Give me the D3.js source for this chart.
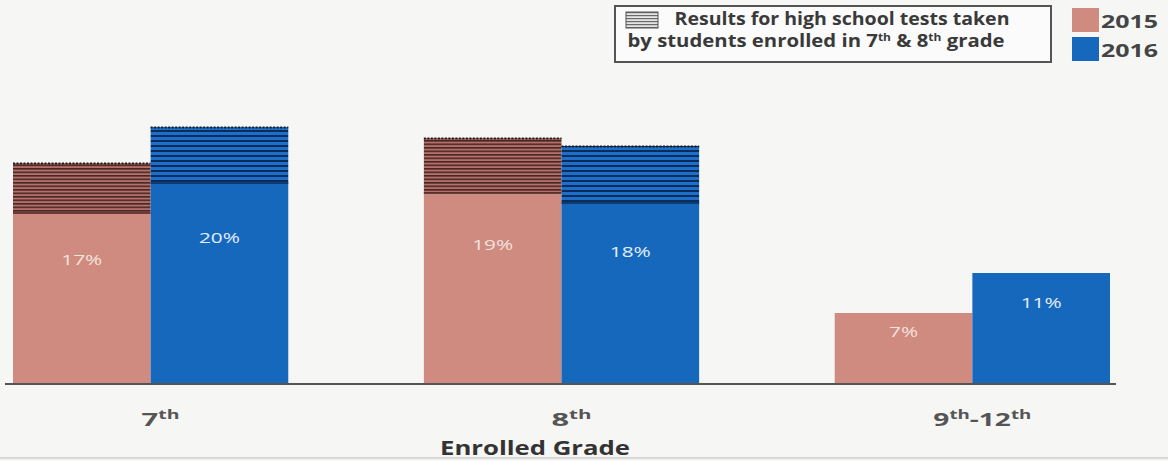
<!DOCTYPE html>
<html>
<head>
<meta charset="utf-8">
<script src="https://cdn.jsdelivr.net/npm/d3@7"></script>
<style>
  html, body { margin: 0; padding: 0; background: #f6f6f5; }
  svg { display: block; font-family: "Open Sans", "Liberation Sans", sans-serif; }
</style>
</head>
<body>
<svg id="chart" width="1168" height="461"></svg>
<script>
// Enrolled grades (ordinal suffix drawn as superscript)
const grades = [
  { base: "7", sup: "th" },
  { base: "8", sup: "th" },
  { base: "9", sup: "th", rest: "-12", sup2: "th" }
];
const years = ["2015", "2016"];

// Percent passing, by grade, for each year
const values2015 = [17, 19, 7];
const values2016 = [20, 18, 11];

// Additional share from high school tests taken in 7th & 8th grade (stacked on top)
const hsTests2015 = [5.0, 5.5, 0];
const hsTests2016 = [5.6, 5.7, 0];

const colors = { "2015": "#d08b80", "2016": "#1668bd" };
const stripeDark = { "2015": "#4a2622", "2016": "#0b2c58" };

const svg = d3.select("#chart");
const W = 1168, H = 461;
const baseY = 383;

const x0 = d3.scaleBand()
  .domain(d3.range(grades.length))
  .range([13, 1110])
  .paddingInner(0.33)
  .paddingOuter(0);
const x1 = d3.scaleBand().domain(years).range([0, x0.bandwidth()]).padding(0);
const y = d3.scaleLinear().domain([0, 30]).range([baseY, baseY - 300]);

// Stripe patterns for the high-school-test segments
const defs = svg.append("defs");
function stripePattern(id, period, dark, bg, darkH) {
  const p = defs.append("pattern")
    .attr("id", id).attr("patternUnits", "userSpaceOnUse")
    .attr("width", 8).attr("height", period);
  p.append("rect").attr("width", 8).attr("height", period).attr("fill", bg);
  p.append("rect").attr("width", 8).attr("height", darkH).attr("fill", dark);
}
stripePattern("stripe2015", 3.5, stripeDark["2015"], "#b4706a", 1.6);
stripePattern("stripe2016", 5, stripeDark["2016"], "#1c6fca", 2);
stripePattern("stripeLegend", 3, "#6a6a6a", "#e4e4e4", 1.2);

const rows = grades.map((g, i) => ({
  i,
  series: [
    { year: "2015", v: values2015[i], extra: hsTests2015[i] },
    { year: "2016", v: values2016[i], extra: hsTests2016[i] }
  ]
}));

const groups = svg.append("g").selectAll("g")
  .data(rows).join("g")
  .attr("transform", d => `translate(${x0(d.i)},0)`);

const bars = groups.selectAll("g.bar")
  .data(d => d.series).join("g").attr("class", "bar");

// base bars
bars.append("rect")
  .attr("x", d => x1(d.year))
  .attr("width", x1.bandwidth())
  .attr("y", d => y(d.v))
  .attr("height", d => y(0) - y(d.v))
  .attr("fill", d => colors[d.year]);

// striped top segments
const striped = bars.filter(d => d.extra > 0);
striped.append("rect")
  .attr("x", d => x1(d.year))
  .attr("width", x1.bandwidth())
  .attr("y", d => y(d.v + d.extra))
  .attr("height", d => y(d.v) - y(d.v + d.extra))
  .attr("fill", d => `url(#stripe${d.year})`);
striped.append("line")
  .attr("x1", d => x1(d.year)).attr("x2", d => x1(d.year) + x1.bandwidth())
  .attr("y1", d => y(d.v + d.extra) + 0.5).attr("y2", d => y(d.v + d.extra) + 0.5)
  .attr("stroke", "#1e1e1e").attr("stroke-width", 2).attr("stroke-dasharray", "2,1.5");
striped.append("line")
  .attr("x1", d => x1(d.year)).attr("x2", d => x1(d.year) + x1.bandwidth())
  .attr("y1", d => y(d.v)).attr("y2", d => y(d.v))
  .attr("stroke", d => stripeDark[d.year]).attr("stroke-width", 1.5);

// value labels
bars.append("text")
  .attr("x", d => x1(d.year) + x1.bandwidth() / 2)
  .attr("y", d => y(d.v * 0.72))
  .attr("text-anchor", "middle")
  .attr("dominant-baseline", "middle")
  .attr("font-size", 15)
  .attr("textLength", d => d.v >= 10 ? 41 : 29)
  .attr("lengthAdjust", "spacingAndGlyphs")
  .attr("fill", d => d.year === "2015" ? "#f3e2de" : "#e4eef8")
  .text(d => d.v + "%");

// baseline
svg.append("line")
  .attr("x1", 5).attr("x2", 1116)
  .attr("y1", baseY + 1).attr("y2", baseY + 1)
  .attr("stroke", "#555").attr("stroke-width", 2);

// category labels
const catWidth = [38, 40, 98];
const cat = svg.append("g").selectAll("text")
  .data(grades).join("text")
  .attr("x", (d, i) => x0(i) + x0.bandwidth() / 2 + 10)
  .attr("y", 426)
  .attr("text-anchor", "middle")
  .attr("font-size", 18)
  .attr("font-weight", "bold")
  .attr("textLength", (d, i) => catWidth[i])
  .attr("lengthAdjust", "spacingAndGlyphs")
  .attr("fill", "#555");
cat.each(function (d) {
  const t = d3.select(this);
  t.append("tspan").text(d.base);
  t.append("tspan").attr("font-size", 12).attr("dy", -7).text(d.sup);
  if (d.rest) {
    t.append("tspan").attr("dy", 7).text(d.rest);
    t.append("tspan").attr("font-size", 12).attr("dy", -7).text(d.sup2);
  }
});

// axis title
svg.append("text")
  .attr("x", 535).attr("y", 455)
  .attr("text-anchor", "middle")
  .attr("font-size", 19).attr("font-weight", "bold")
  .attr("textLength", 190).attr("lengthAdjust", "spacingAndGlyphs")
  .attr("fill", "#333")
  .text("Enrolled Grade");

// legend: striped segment explanation
const lg = svg.append("g");
lg.append("rect")
  .attr("x", 615).attr("y", 6).attr("width", 436).attr("height", 56)
  .attr("fill", "#fbfbfb").attr("stroke", "#555").attr("stroke-width", 2);
lg.append("rect")
  .attr("x", 626).attr("y", 12).attr("width", 32).attr("height", 16)
  .attr("fill", "url(#stripeLegend)").attr("stroke", "#555").attr("stroke-width", 1);
lg.append("text")
  .attr("x", 842).attr("y", 25).attr("text-anchor", "middle")
  .attr("font-size", 17).attr("font-weight", "bold").attr("fill", "#3a3a3a")
  .attr("textLength", 335).attr("lengthAdjust", "spacingAndGlyphs")
  .text("Results for high school tests taken");
const l2 = lg.append("text")
  .attr("x", 816).attr("y", 47).attr("text-anchor", "middle")
  .attr("font-size", 17).attr("font-weight", "bold").attr("fill", "#3a3a3a")
  .attr("textLength", 377).attr("lengthAdjust", "spacingAndGlyphs");
l2.append("tspan").text("by students enrolled  in 7");
l2.append("tspan").attr("font-size", 10).attr("dy", -6).text("th");
l2.append("tspan").attr("dy", 6).text(" & 8");
l2.append("tspan").attr("font-size", 10).attr("dy", -6).text("th");
l2.append("tspan").attr("dy", 6).text(" grade");

// legend: years
const ly = svg.append("g").selectAll("g")
  .data(years).join("g")
  .attr("transform", (d, i) => `translate(1072,${8 + i * 29})`);
ly.append("rect").attr("width", 27).attr("height", 24).attr("fill", d => colors[d]);
ly.append("text")
  .attr("x", 29).attr("y", 20)
  .attr("font-size", 18).attr("font-weight", "bold").attr("fill", "#444")
  .attr("textLength", 57).attr("lengthAdjust", "spacingAndGlyphs")
  .text(d => d);

// bottom rule
svg.append("line")
  .attr("x1", 0).attr("x2", W).attr("y1", H - 3).attr("y2", H - 3)
  .attr("stroke", "#bbb").attr("stroke-width", 1);
</script>
</body>
</html>
